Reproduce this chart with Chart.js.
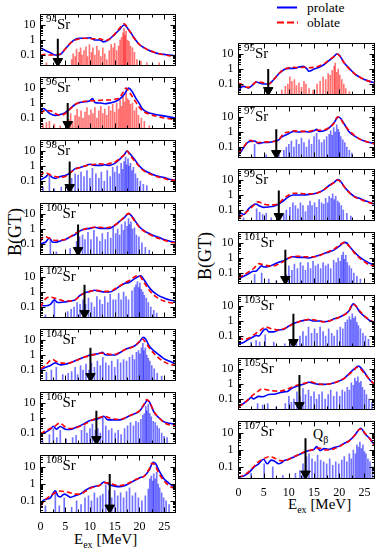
<!DOCTYPE html>
<html><head><meta charset="utf-8">
<script src="https://cdn.jsdelivr.net/npm/chart.js@4.4.0/dist/chart.umd.min.js"></script>
<style>
html,body{margin:0;padding:0;background:#fff;}
body{width:382px;height:552px;position:relative;overflow:hidden;font-family:"Liberation Serif","Times New Roman",serif;color:#000;}
canvas{position:absolute;}
.plab{position:absolute;font-size:15px;line-height:15px;white-space:nowrap;}
.plab .sup{font-size:11px;position:relative;top:-7px;}
.xt{position:absolute;font-size:15px;line-height:15px;white-space:nowrap;}
.xt .sb{font-size:10px;position:relative;top:4px;}
.yt{position:absolute;font-size:18px;line-height:18px;white-space:nowrap;transform:translate(-50%,-50%) rotate(-90deg);}
.q{position:absolute;font-size:14px;line-height:14px;white-space:nowrap;}
.q .sb{font-size:10px;position:relative;top:4px;}
</style></head><body>
<svg style="position:absolute;left:270px;top:0px" width="112" height="32">
<line x1="7" y1="7.5" x2="27" y2="7.5" stroke="#0000ff" stroke-width="2"/>
<text x="37" y="12" font-family="Liberation Serif" font-size="13.5">prolate</text>
<line x1="7" y1="22.5" x2="28" y2="22.5" stroke="#ff0000" stroke-width="2" stroke-dasharray="7,3"/>
<text x="37" y="27" font-family="Liberation Serif" font-size="13.5">oblate</text>
</svg>
<div class="yt" style="left:15px;top:232px">B(GT)</div>
<div class="yt" style="left:205px;top:256px">B(GT)</div>
<div class="xt" style="left:74px;top:532px">E<span class="sb">ex</span> [MeV]</div>
<div class="xt" style="left:288px;top:497px">E<span class="sb">ex</span> [MeV]</div>
<div class="q" style="left:313px;top:428px">Q<span class="sb">β</span></div>
<script>
// ---------------- data ----------------
const LEFT_ISOTOPES = [94, 96, 98, 100, 102, 104, 106, 108];
const RIGHT_ISOTOPES = [95, 97, 99, 101, 103, 105, 107];
const LEFT_QBETA = [3.5, 5.5, 5.9, 7.6, 8.9, 10.1, 11.3, 14.0];
const RIGHT_QBETA = [5.9, 7.5, 8.0, 9.3, 10.9, 12.1, 13.3];
const LEFT_ARROW_TOP = [1.2, 1.0, 2.0, 2.0, 3.0, 3.0, 3.0, 4.0];
const RIGHT_ARROW_TOP = [1.0, 1.5, 2.0, 3.5, 3.0, 4.0, 5.0];
const ARROW_FOOT = 0.038;
const Y_TICKS = [0.1, 1, 10];
const X_TICKS = [0, 5, 10, 15, 20, 25];
const RED_SPIKE_ISOTOPES = [94, 95, 96];

const PROLATE_94 = [[0,0.3],[1,0.2],[2,0.14],[3,0.1],[4,0.11],[5,0.25],[6,0.6],[7,1.1],[8,1.3],[9,1.3],[10,1.4],[11,1.0],[12,1.0],[12.7,0.75],[13.7,1.0],[15,2.4],[16,5],[16.9,10],[18,4],[19,1.3],[20,0.5],[21,0.3],[22,0.2],[23,0.15],[24,0.12],[25,0.11],[26,0.1],[27.3,0.09]];
const OBLATE_94 = [[0,0.1],[1,0.11],[2,0.1],[3,0.1],[4,0.12],[5,0.25],[6,0.6],[7,1.0],[8,1.2],[9,1.3],[10,1.2],[11,1.2],[12,1.2],[13,0.9],[14,1.2],[15,2.5],[16,6],[16.9,12],[18,4],[19,1.2],[20,0.5],[21,0.3],[22,0.2],[23,0.15],[24,0.12],[25,0.1],[26,0.09],[27.3,0.08]];
const LINES_94 = [[1.2,0.03],[6.3,0.05],[6.6,0.12],[7.0,0.08],[7.3,0.25],[7.8,0.15],[8.1,0.3],[8.4,0.1],[8.8,0.2],[9.2,0.35],[9.5,0.08],[9.9,0.5],[10.3,0.15],[10.6,0.3],[11.0,0.1],[11.4,0.4],[11.8,0.2],[12.2,0.08],[12.6,0.3],[13.0,0.12],[13.4,0.05],[13.9,0.2],[14.3,0.5],[14.7,0.3],[15.0,0.6],[15.4,0.2],[15.8,0.4],[16.1,1.0],[16.4,1.5],[16.7,3],[16.9,6],[17.1,2],[17.3,4],[17.6,1],[17.9,0.8],[18.2,0.4],[18.6,0.3],[19.0,0.15],[19.5,0.05],[20.3,0.04],[21.5,0.03],[24.0,0.03]];

const PROLATE_96 = [[0,0.23],[0.6,0.43],[1,0.36],[2,0.19],[3,0.15],[4,0.17],[5,0.23],[6,0.43],[7,0.8],[8,1.1],[9,1.2],[10,1.4],[10.5,2.0],[11,1.1],[12,1.0],[13,0.9],[14,1.0],[15,1.2],[16,1.8],[17,4],[17.8,10],[18.5,6],[19.2,2.3],[20,0.9],[20.5,0.45],[21.5,0.25],[23,0.18],[24.3,0.15],[27.3,0.1]];
const OBLATE_96 = [[0,0.2],[1,0.32],[2,0.3],[3,0.2],[4,0.15],[5,0.2],[6,0.4],[7,0.8],[8,1.1],[9,1.3],[10,1.4],[11,1.4],[12,1.5],[13,1.6],[14,1.6],[15,1.8],[16,2.3],[16.8,6],[17.3,10],[18,5],[19,1.6],[20,0.5],[21,0.25],[22,0.18],[23,0.14],[24,0.12],[25,0.1],[26,0.09],[27.3,0.08]];
const LINES_96 = [[0.5,0.04],[1.2,0.05],[1.8,0.06],[2.8,0.04],[4.0,0.03],[5.7,0.08],[6.1,0.2],[6.5,0.06],[7.0,0.15],[7.4,0.4],[7.8,0.12],[8.2,0.3],[8.6,0.1],[9.0,0.25],[9.4,0.5],[9.8,0.15],[10.2,0.35],[10.6,0.2],[11.0,0.5],[11.4,0.1],[11.8,0.3],[12.2,0.6],[12.6,0.2],[13.0,0.4],[13.4,0.15],[13.8,0.6],[14.2,0.3],[14.6,0.8],[15.0,0.25],[15.4,1.0],[15.8,0.4],[16.1,1.5],[16.4,0.6],[16.7,3],[17.0,1.2],[17.3,5],[17.6,2],[17.9,1.5],[18.2,0.8],[18.6,1.0],[19.0,0.3],[19.4,0.5],[19.8,0.15],[20.4,0.1],[21.0,0.06],[22.0,0.03]];

const PROLATE_98 = [[0,0.12],[1,0.18],[1.7,0.28],[2.3,0.18],[3,0.15],[4,0.2],[5,0.23],[6,0.35],[7,0.67],[8,0.8],[9,1.0],[10,1.3],[11,1.1],[12,1.1],[13,1.2],[14,1.1],[15,1.5],[16,2.8],[17,6],[17.5,10],[18,7],[19,2.8],[20,1.0],[21,0.5],[22,0.35],[23,0.25],[24,0.2],[25,0.17],[26,0.13],[27.3,0.12]];
const OBLATE_98 = [[0,0.2],[0.6,0.35],[1,0.35],[2,0.25],[3,0.2],[4,0.18],[5,0.2],[6,0.35],[7,0.6],[8,0.8],[9,1.0],[10,1.2],[11,1.3],[12,1.4],[13,1.3],[14,1.5],[15,1.8],[16,3],[17,6],[17.5,10],[18,6],[19,2.2],[20,0.9],[21,0.45],[22,0.3],[23,0.22],[24,0.18],[25,0.15],[26,0.12],[27.3,0.11]];
const LINES_98 = [[0.5,0.04],[1.8,0.25],[2.8,0.03],[4.2,0.04],[5.5,0.05],[6.3,0.15],[7.0,0.3],[7.6,0.25],[8.2,0.4],[8.8,0.2],[9.4,0.5],[10.0,0.15],[10.5,0.7],[11.2,0.3],[11.8,0.15],[12.3,0.4],[12.9,0.1],[13.5,0.5],[14.1,0.2],[14.6,0.8],[15.0,0.4],[15.5,1.0],[15.9,0.3],[16.3,1.5],[16.6,0.6],[16.9,2],[17.2,4],[17.4,1.2],[17.7,3],[17.9,1],[18.2,1.5],[18.5,0.5],[18.8,0.8],[19.2,0.3],[19.6,0.15],[20.2,0.1],[20.8,0.06],[21.5,0.05]];

const PROLATE_100 = [[0,0.11],[1,0.13],[1.8,0.25],[2.5,0.13],[3,0.13],[4,0.16],[5,0.2],[6,0.3],[7,0.43],[8,0.75],[9,1.0],[10,1.1],[11,1.3],[12,1.1],[13,1.1],[14,1.1],[15,1.7],[16,3.2],[17,6],[17.8,10.5],[18.5,7],[19,4],[20,1.4],[21,0.75],[22,0.5],[23,0.35],[24,0.27],[25,0.2],[26,0.16],[27.3,0.13]];
const OBLATE_100 = [[0,0.15],[0.6,0.3],[1,0.3],[2,0.22],[3,0.17],[4,0.18],[5,0.2],[6,0.3],[7,0.5],[8,0.75],[9,1.0],[10,1.2],[11,1.3],[12,1.3],[13,1.2],[14,1.3],[15,1.8],[16,3.2],[17,6.5],[17.8,11],[18.5,6],[19,3.5],[20,1.3],[21,0.7],[22,0.45],[23,0.3],[24,0.23],[25,0.18],[26,0.14],[27.3,0.12]];
const LINES_100 = [[2.0,0.2],[3.2,0.03],[6.0,0.05],[7.3,0.15],[7.9,0.3],[8.5,0.4],[9.0,0.2],[9.6,0.6],[10.2,0.2],[10.8,0.8],[11.4,0.3],[12.0,0.15],[12.5,0.5],[13.1,0.2],[13.6,0.6],[14.2,0.25],[14.7,1.2],[15.2,0.5],[15.6,1.0],[16.0,0.4],[16.4,2],[16.8,0.8],[17.1,3],[17.5,1.5],[17.8,5],[18.0,2],[18.3,3],[18.6,1],[19.0,1.2],[19.4,0.4],[19.9,0.3],[20.5,0.12],[21.2,0.06],[22.0,0.04]];

const PROLATE_102 = [[0,0.13],[1,0.12],[2,0.15],[2.8,0.3],[3.5,0.2],[4,0.2],[5,0.22],[6,0.25],[7,0.3],[8,0.6],[9,0.9],[10,1.1],[11,1.3],[12,1.1],[13,1.0],[14,1.0],[15,1.4],[16,2.4],[17,3.7],[18,4.5],[19,7.5],[20.3,12],[21,6],[22,2],[23,0.9],[24,0.55],[25,0.4],[26,0.3],[27.3,0.25]];
const OBLATE_102 = [[0,0.1],[0.5,0.2],[1,0.35],[2,0.45],[3,0.38],[4,0.3],[5,0.25],[6,0.25],[7,0.3],[8,0.55],[9,0.9],[10,1.1],[11,1.3],[12,1.2],[13,1.1],[14,1.1],[15,1.6],[16,2.5],[17,4],[18,6],[19,10],[19.8,13],[21,4],[22,1.3],[23,0.6],[24,0.35],[25,0.25],[26,0.2],[27.3,0.17]];
const LINES_102 = [[1.0,0.03],[2.8,0.3],[5.5,0.05],[6.2,0.07],[6.8,0.1],[7.4,0.2],[8.0,0.15],[8.6,0.3],[9.1,0.15],[9.7,0.4],[10.3,0.2],[10.9,0.1],[11.4,0.5],[12.0,0.3],[12.5,0.15],[13.0,0.5],[13.6,0.2],[14.1,0.7],[14.7,0.3],[15.2,0.3],[15.8,0.8],[16.3,0.3],[16.8,1],[17.3,0.5],[17.8,0.3],[18.5,1.2],[19.0,2],[19.3,3],[19.6,5],[19.9,2],[20.1,4],[20.4,1.5],[20.7,1],[21.0,0.6],[21.4,0.4],[21.8,0.2],[22.3,0.1],[22.9,0.06],[23.5,0.04]];

const PROLATE_104 = [[0,0.1],[1,0.15],[2,0.2],[3,0.3],[4,0.22],[5,0.24],[6,0.3],[7,0.42],[8,0.56],[9,0.75],[10,1.0],[11,1.1],[12,1.3],[12.5,1.5],[13,1.1],[14,1.0],[15,1.0],[16,1.4],[17,2.2],[18,3],[19,4],[20,7.5],[20.8,15],[21.3,11],[22,4],[23,1.8],[24,1.0],[25,0.55],[26,0.4],[27.3,0.25]];
const OBLATE_104 = [[0,0.12],[1,0.2],[2,0.45],[2.5,0.5],[3,0.4],[4,0.3],[5,0.28],[6,0.3],[7,0.4],[8,0.55],[9,0.75],[10,0.9],[11,1.1],[12,1.3],[13,1.3],[14,1.1],[15,1.1],[16,1.5],[17,2.2],[18,2.8],[19,4],[20,8],[20.5,12],[21,9],[22,3],[23,1.2],[24,0.6],[25,0.35],[26,0.25],[27.3,0.2]];
const LINES_104 = [[1.2,0.07],[2.2,0.1],[3.2,0.15],[4.5,0.05],[5.6,0.06],[6.3,0.08],[7.0,0.15],[7.5,0.05],[8.1,0.2],[8.6,0.1],[9.2,0.25],[9.8,0.1],[10.3,0.3],[10.9,0.15],[11.5,0.4],[12.1,0.2],[12.6,0.7],[13.2,0.3],[13.8,0.2],[14.4,0.4],[15.0,0.15],[15.6,0.5],[16.2,0.3],[16.8,0.5],[17.4,0.4],[18.0,0.7],[18.6,1],[19.0,0.5],[19.4,1.5],[19.8,2],[20.1,1.2],[20.4,3],[20.7,6],[20.9,2],[21.2,3],[21.5,1],[21.8,0.6],[22.1,0.4],[22.5,0.2],[23.0,0.12],[23.6,0.06],[24.5,0.04]];

const PROLATE_106 = [[0,0.085],[1,0.11],[2,0.18],[2.6,0.28],[3.2,0.18],[4,0.27],[5,0.18],[6,0.17],[7,0.22],[8,0.3],[9,0.45],[10,0.67],[11,0.8],[12,1.0],[12.8,1.3],[13.5,0.8],[14,0.75],[15,0.75],[16,0.75],[17,0.95],[18,1.4],[19,1.9],[20,2.8],[21,8],[21.6,15],[22,12],[23,2.3],[24,1.0],[25,0.55],[26,0.45],[27.3,0.38]];
const OBLATE_106 = [[0,0.09],[1,0.14],[2,0.2],[3,0.3],[3.8,0.45],[4.5,0.35],[5,0.25],[6,0.2],[7,0.22],[8,0.28],[9,0.4],[10,0.6],[11,0.9],[12,1.1],[13,1.3],[14,1.0],[15,0.85],[16,0.8],[17,1.0],[18,1.4],[19,2],[20,3],[21,9],[21.5,17],[22,12],[23,2.5],[24,1.0],[25,0.5],[26,0.35],[27.3,0.3]];
const LINES_106 = [[0.4,0.04],[1.8,0.08],[2.6,0.2],[3.3,0.05],[4.0,0.15],[5.2,0.04],[6.5,0.05],[7.2,0.07],[8.3,0.15],[8.9,0.3],[9.4,0.1],[10.0,0.2],[10.5,0.4],[11.1,0.15],[11.6,0.2],[12.1,0.1],[12.6,1.2],[13.2,0.3],[13.8,0.15],[14.4,0.2],[15.1,0.1],[15.7,0.15],[16.3,0.08],[17.0,0.2],[17.6,0.3],[18.2,0.5],[18.8,0.3],[19.3,0.6],[19.8,0.5],[20.3,0.8],[20.7,1.5],[21.0,2],[21.3,6],[21.5,3],[21.8,8],[22.1,2],[22.4,1.2],[22.8,0.6],[23.2,0.5],[23.6,0.3],[24.0,0.2],[24.5,0.1],[25.0,0.06],[25.6,0.05]];

const PROLATE_108 = [[0,0.05],[0.5,0.1],[1,0.12],[2,0.15],[3,0.4],[3.5,0.2],[4,0.17],[4.8,0.25],[5.5,0.2],[6,0.16],[7,0.2],[8,0.25],[9,0.4],[10,0.6],[11,0.72],[12,0.85],[12.8,1.3],[13.5,1.1],[14,0.9],[15,0.75],[16,0.7],[17,0.8],[18,1.1],[19,1.6],[20,2.3],[21,3],[22,7],[22.8,20],[23.3,16],[24,6],[25,2],[26,1.1],[27.3,0.6]];
const OBLATE_108 = [[0,0.05],[0.5,0.08],[1,0.12],[2,0.2],[3,0.3],[3.5,0.35],[4,0.38],[5,0.35],[6,0.3],[7,0.25],[8,0.25],[9,0.35],[10,0.55],[11,0.7],[12,0.85],[13,1.2],[14,1.1],[15,0.9],[16,0.8],[17,0.9],[18,1.2],[19,1.7],[20,2.2],[21,3],[22,8],[22.5,17],[23,15],[24,4],[25,1.5],[26,0.8],[27.3,0.5]];
const LINES_108 = [[1.0,0.05],[3.0,0.3],[3.8,0.05],[4.8,0.15],[6.3,0.04],[7.3,0.1],[8.2,0.06],[9.0,0.15],[9.7,0.2],[10.3,0.1],[10.9,0.3],[11.5,0.15],[12.1,0.2],[12.6,0.25],[13.2,0.9],[13.8,0.4],[14.4,0.15],[15.0,0.4],[15.6,0.2],[16.2,0.3],[16.8,0.15],[17.4,0.35],[18.0,0.6],[18.6,0.2],[19.2,0.3],[19.8,0.15],[20.5,0.1],[21.2,0.2],[21.8,0.5],[22.1,2],[22.4,3],[22.7,1.5],[22.9,4],[23.2,2],[23.5,5],[23.8,1],[24.1,0.6],[24.5,0.3],[24.9,0.15],[25.4,0.1],[26.0,0.06]];

const PROLATE_95 = [[0,0.033],[0.5,0.06],[1,0.07],[2,0.055],[3,0.1],[3.5,0.14],[4,0.12],[5,0.1],[6,0.1],[7,0.2],[8,0.48],[9,0.9],[10,1.1],[11,1.1],[12,1.35],[12.8,1.5],[13.5,1.1],[14,0.7],[15,1.0],[16,1.3],[17,2],[18,3.7],[19,7],[19.5,10],[20,8.5],[21,2.5],[22,1.1],[23,0.5],[24,0.3],[25,0.2],[26,0.15],[27,0.12]];
const OBLATE_95 = [[0,0.11],[0.5,0.1],[1,0.07],[2,0.06],[3,0.1],[3.7,0.15],[4,0.14],[5,0.12],[6,0.1],[7,0.2],[8,0.5],[9,0.9],[10,1.2],[11,1.3],[12,1.2],[13,1.3],[14,1.2],[15,1.3],[16,1.6],[17,2.3],[18,4],[19,7],[19.5,10],[20,8],[21,2.5],[22,1.0],[23,0.5],[24,0.3],[25,0.2],[26,0.15],[27,0.12]];
const LINES_95 = [[8.6,0.04],[9.3,0.07],[9.8,0.1],[10.2,0.3],[10.6,0.15],[11.1,0.2],[11.5,0.08],[12.0,0.12],[12.5,0.06],[13.0,0.15],[13.4,0.1],[14.0,0.05],[14.8,0.04],[15.6,0.1],[16.2,0.15],[16.8,0.3],[17.3,0.2],[17.8,0.5],[18.2,0.4],[18.6,0.8],[19.0,1.5],[19.2,2.5],[19.5,0.6],[19.8,1],[20.1,0.4],[20.5,0.2],[20.9,0.1],[21.3,0.05],[22.0,0.03]];

const PROLATE_97 = [[0,0.032],[0.5,0.05],[1,0.09],[2,0.22],[3.2,0.25],[4,0.17],[5,0.2],[6,0.2],[7,0.24],[8,0.3],[8.5,0.45],[9,0.55],[10,0.8],[11,1.1],[12,1.0],[13,1.1],[14,1.0],[15,1.2],[15.5,1.5],[16,1.1],[17,1.2],[18,1.9],[19,4.3],[19.8,10],[20.3,8],[21,3.4],[22,1.0],[23,0.55],[24,0.35],[25,0.25],[26,0.2],[27,0.17]];
const OBLATE_97 = [[0,0.04],[1,0.1],[2,0.25],[2.5,0.28],[3,0.22],[4,0.2],[5,0.22],[6,0.22],[7,0.23],[8,0.3],[8.5,0.5],[9,0.8],[10,1.0],[11,1.2],[12,1.1],[13,1.1],[14,1.1],[15,1.3],[16,1.3],[17,1.4],[18,2],[19,4],[19.6,10],[20.2,8],[21,3],[22,1.2],[23,0.6],[24,0.35],[25,0.25],[26,0.2],[27,0.16]];
const LINES_97 = [[3.2,0.15],[5.5,0.03],[8.0,0.03],[9.0,0.06],[9.5,0.1],[10.0,0.15],[10.5,0.25],[11.0,0.1],[11.5,0.3],[12.0,0.15],[12.5,0.4],[13.0,0.2],[13.5,0.1],[14.0,0.3],[14.5,0.15],[15.0,0.5],[15.5,0.8],[16.0,0.3],[16.5,0.2],[17.0,0.3],[17.5,0.5],[18.0,0.7],[18.3,1.2],[18.6,0.6],[18.9,2],[19.2,1],[19.5,3],[19.8,1.5],[20.0,1],[20.3,0.5],[20.7,0.3],[21.1,0.2],[21.5,0.1],[22.0,0.06],[22.5,0.04]];

const PROLATE_99 = [[0,0.048],[0.5,0.06],[1,0.05],[1.5,0.07],[2,0.12],[3.5,0.25],[4,0.2],[5,0.15],[6,0.16],[7,0.18],[8,0.25],[9,0.43],[10,0.8],[11,1.0],[12,1.0],[13,1.0],[14,1.1],[15,1.2],[16,1.5],[17,2.3],[18,4.3],[19,7],[19.7,10.5],[20.3,8],[21,3.5],[22,1.5],[23,0.8],[24,0.6],[25,0.43],[26,0.33],[27,0.25]];
const OBLATE_99 = [[0,0.03],[1,0.05],[2,0.1],[3,0.2],[3.8,0.35],[4.5,0.3],[5,0.25],[6,0.22],[7,0.22],[8,0.28],[9,0.6],[10,1.0],[11,1.3],[12,1.3],[13,1.2],[14,1.2],[15,1.2],[16,1.5],[17,2.3],[18,4],[19,7],[19.5,10],[20,9],[21,3.5],[22,1.4],[23,0.75],[24,0.55],[25,0.4],[26,0.3],[27,0.25]];
const LINES_99 = [[1.0,0.03],[3.6,0.12],[4.2,0.07],[4.8,0.05],[5.5,0.06],[6.5,0.03],[9.0,0.05],[9.5,0.1],[10.2,0.15],[10.8,0.3],[11.3,0.2],[11.8,0.12],[12.3,0.3],[12.8,0.2],[13.3,0.08],[13.8,0.2],[14.2,0.4],[14.6,0.2],[15.1,0.3],[15.5,0.15],[16.0,0.5],[16.5,0.3],[16.9,0.25],[17.3,0.6],[17.7,0.3],[18.0,0.8],[18.4,0.6],[18.7,1.2],[19.0,0.5],[19.3,0.8],[19.7,0.4],[20.0,0.3],[20.4,0.2],[20.8,0.1],[21.5,0.06],[22.3,0.04]];

const PROLATE_101 = [[0,0.04],[1,0.06],[2,0.09],[3,0.13],[3.4,0.13],[4,0.2],[4.6,0.3],[5,0.25],[6,0.27],[7,0.37],[8,0.52],[9,0.65],[10,1.0],[11,1.2],[12,1.1],[13,1.1],[14,1.0],[15,1.2],[16,1.5],[17,2.0],[18,2.5],[19,3.5],[20,6],[21,11],[21.5,10],[22,6],[23,2.5],[24,1.2],[25,0.7],[26,0.45],[27,0.37]];
const OBLATE_101 = [[0,0.05],[1,0.07],[2,0.12],[3,0.2],[3.5,0.3],[4,0.42],[5,0.35],[6,0.3],[7,0.3],[8,0.4],[9,0.6],[10,1.0],[11,1.3],[12,1.3],[13,1.2],[14,1.2],[15,1.2],[16,1.4],[17,2.0],[18,2.8],[19,4],[20,7],[21,11],[22,6],[23,2.2],[24,1.0],[25,0.55],[26,0.35],[27,0.3]];
const LINES_101 = [[3.2,0.08],[4.6,0.1],[6.0,0.04],[7.5,0.03],[9.5,0.08],[10.0,0.3],[10.6,0.15],[11.1,0.4],[11.7,0.2],[12.3,0.5],[12.8,0.3],[13.3,0.15],[13.8,0.5],[14.3,0.2],[14.8,0.6],[15.3,0.3],[15.8,0.4],[16.3,0.2],[16.8,0.5],[17.3,0.3],[17.8,0.4],[18.3,0.2],[18.9,0.7],[19.4,0.5],[19.8,1],[20.2,0.6],[20.5,1.5],[20.8,2.5],[21.0,0.8],[21.3,1.5],[21.6,0.5],[22.0,0.3],[22.4,0.2],[22.9,0.1],[23.5,0.06],[24.2,0.04]];

const PROLATE_103 = [[0,0.03],[1,0.037],[2,0.06],[3,0.09],[3.5,0.11],[4,0.1],[5,0.25],[5.5,0.29],[6,0.19],[7,0.19],[8,0.25],[9,0.28],[10,0.46],[11,0.7],[12,0.9],[13,1.1],[14,1.2],[15,1.0],[16,1.0],[17,0.9],[18,1.0],[19,1.4],[20,1.8],[21,2.6],[22,5],[22.8,14],[23.3,10],[24,4.3],[25,2],[26,1.1],[27,0.75]];
const OBLATE_103 = [[0,0.08],[1,0.06],[2,0.07],[3,0.12],[4,0.2],[5,0.35],[5.5,0.4],[6,0.35],[7,0.28],[8,0.25],[9,0.3],[10,0.45],[11,0.65],[12,0.9],[13,1.1],[14,1.3],[15,1.2],[16,1.0],[17,0.9],[18,1.0],[19,1.3],[20,1.8],[21,2.6],[22,5],[22.5,12],[23,12],[24,5],[25,2.2],[26,1.2],[27,0.8]];
const LINES_103 = [[2.5,0.04],[3.5,0.05],[4.2,0.04],[5.3,0.12],[7.0,0.04],[9.2,0.03],[10.3,0.04],[11.5,0.05],[12.2,0.1],[12.8,0.2],[13.4,0.1],[13.9,0.4],[14.5,0.15],[15.1,0.3],[15.6,0.15],[16.2,0.4],[16.8,0.2],[17.3,0.1],[17.9,0.3],[18.5,0.15],[19.0,0.1],[19.6,0.25],[20.2,0.4],[20.7,0.3],[21.2,0.8],[21.6,1.2],[22.0,2],[22.3,1.2],[22.6,3],[22.9,1.5],[23.2,2],[23.5,0.8],[23.8,0.5],[24.2,0.3],[24.7,0.15],[25.2,0.1],[25.8,0.06]];

const PROLATE_105 = [[0,0.032],[1,0.05],[2,0.09],[2.5,0.13],[3,0.1],[4,0.15],[4.8,0.14],[6,0.2],[7,0.21],[8,0.25],[9,0.3],[9.7,0.32],[10.5,0.5],[11,0.6],[12,0.8],[13,1.0],[14,1.3],[15,1.1],[16,0.95],[17,0.95],[18,1.0],[19,1.2],[20,1.6],[21,2.4],[22,5],[23,10],[23.8,16],[24.5,10],[25,6],[26,2],[27,0.95]];
const OBLATE_105 = [[0,0.03],[1,0.05],[2,0.1],[3,0.2],[4,0.35],[4.5,0.45],[5,0.45],[6,0.38],[7,0.35],[8,0.33],[9,0.38],[10,0.5],[11,0.7],[12,0.9],[13,1.1],[14,1.3],[14.5,1.4],[15,1.2],[16,1.0],[17,0.95],[18,1.0],[19,1.2],[20,1.6],[21,2.4],[22,4.5],[23,9],[23.5,13],[24,12],[25,5],[26,2],[27,1.0]];
const LINES_105 = [[3.8,0.05],[4.8,0.04],[5.8,0.05],[7.5,0.03],[9.3,0.05],[10.0,0.15],[10.5,0.06],[11.0,0.1],[11.6,0.3],[12.2,0.15],[12.8,0.5],[13.3,0.2],[13.9,0.4],[14.4,0.15],[15.0,0.3],[15.5,0.1],[16.0,0.2],[16.6,0.3],[17.2,0.1],[17.8,0.2],[18.3,0.4],[18.9,0.15],[19.5,0.3],[20.1,0.15],[20.6,0.4],[21.1,0.3],[21.6,0.6],[22.0,0.4],[22.4,1.2],[22.8,0.8],[23.1,2.5],[23.4,1.5],[23.7,3],[24.0,1.2],[24.3,1.5],[24.6,0.6],[25.0,0.4],[25.4,0.2],[25.9,0.1],[26.5,0.06]];

const PROLATE_107 = [[0,0.023],[1,0.028],[2,0.043],[3,0.09],[4,0.15],[5,0.28],[5.7,0.15],[6.5,0.25],[7,0.23],[8,0.15],[8.5,0.17],[9,0.23],[10,0.28],[11,0.38],[12,0.53],[13,0.72],[14,0.92],[15,1.1],[15.5,1.6],[16.2,0.92],[17,1.2],[18,1.1],[19,1.4],[20,1.7],[21,2.5],[22,3.6],[23,7],[24.3,20],[25,10],[26,5],[27,1.9]];
const OBLATE_107 = [[0,0.025],[1,0.03],[2,0.05],[3,0.1],[4,0.2],[5,0.3],[6,0.4],[7,0.35],[8,0.25],[9,0.22],[10,0.28],[11,0.4],[12,0.55],[13,0.75],[14,0.9],[15,1.1],[16,1.3],[16.5,1.2],[17,1.0],[18,1.0],[19,1.2],[20,1.6],[21,2.4],[22,3.5],[23,7],[24,17],[24.5,18],[25,11],[26,5],[27,1.8]];
const LINES_107 = [[2.5,0.04],[5.1,0.15],[6.8,0.1],[8.8,0.03],[11.3,0.04],[12.2,0.06],[12.8,0.15],[13.5,0.4],[14.0,0.6],[14.6,0.3],[15.2,0.2],[15.7,0.5],[16.3,0.25],[16.9,0.2],[17.5,0.15],[18.1,0.3],[18.7,0.12],[19.3,0.2],[19.9,0.15],[20.5,0.25],[21.0,0.4],[21.5,0.2],[22.0,0.6],[22.4,0.3],[22.8,1],[23.2,0.6],[23.5,2],[23.8,1.5],[24.1,3],[24.4,1.2],[24.7,2],[25.0,0.8],[25.3,0.6],[25.7,0.3],[26.1,0.2],[26.6,0.1]];

const PROLATE = {94:PROLATE_94,96:PROLATE_96,98:PROLATE_98,100:PROLATE_100,102:PROLATE_102,104:PROLATE_104,106:PROLATE_106,108:PROLATE_108,95:PROLATE_95,97:PROLATE_97,99:PROLATE_99,101:PROLATE_101,103:PROLATE_103,105:PROLATE_105,107:PROLATE_107};
const OBLATE = {94:OBLATE_94,96:OBLATE_96,98:OBLATE_98,100:OBLATE_100,102:OBLATE_102,104:OBLATE_104,106:OBLATE_106,108:OBLATE_108,95:OBLATE_95,97:OBLATE_97,99:OBLATE_99,101:OBLATE_101,103:OBLATE_103,105:OBLATE_105,107:OBLATE_107};
const LINES = {94:LINES_94,96:LINES_96,98:LINES_98,100:LINES_100,102:LINES_102,104:LINES_104,106:LINES_106,108:LINES_108,95:LINES_95,97:LINES_97,99:LINES_99,101:LINES_101,103:LINES_103,105:LINES_105,107:LINES_107};

// ---------------- layout / style ----------------
Chart.defaults.font.family = '"Liberation Serif","Times New Roman",serif';
Chart.defaults.color = '#000';

const PANEL_H = 63;
const COLS = [
  {isotopes: LEFT_ISOTOPES, q: LEFT_QBETA, top: LEFT_ARROW_TOP, canvasLeft: 0, canvasW: 182, y0: 8, xMax: 27.3},
  {isotopes: RIGHT_ISOTOPES, q: RIGHT_QBETA, top: RIGHT_ARROW_TOP, canvasLeft: 198, canvasW: 183, y0: 37, xMax: 27.0}
];
const Y_AXIS_W = 40.5;
const X_AXIS_H = 40;

const frameTicks = {
  id: 'frameTicks',
  afterDatasetsDraw(chart) {
    const {ctx, chartArea: a, scales: {x, y}} = chart;
    ctx.save();
    ctx.strokeStyle = '#000';
    ctx.lineWidth = 1;
    ctx.beginPath();
    for (let e = -2; e <= 1; e++) {
      for (let m = 1; m <= 9; m++) {
        const v = m * Math.pow(10, e);
        if (v <= y.min * 1.0001 || v >= y.max * 0.9999) continue;
        const py = Math.round(y.getPixelForValue(v)) + 0.5;
        const L = m === 1 ? 5 : 2.5;
        ctx.moveTo(a.left, py); ctx.lineTo(a.left + L, py);
        ctx.moveTo(a.right, py); ctx.lineTo(a.right - L, py);
      }
    }
    for (let k = 1; k * 2.5 < x.max; k++) {
      const v = k * 2.5;
      const px = Math.round(x.getPixelForValue(v)) + 0.5;
      const L = (k % 2 === 0) ? 5 : 3;
      ctx.moveTo(px, a.bottom); ctx.lineTo(px, a.bottom - L);
      ctx.moveTo(px, a.top); ctx.lineTo(px, a.top + L);
    }
    ctx.stroke();
    ctx.strokeRect(a.left, a.top, a.right - a.left, a.bottom - a.top);
    ctx.restore();
  }
};

const toXY = arr => arr.map(p => ({x: p[0], y: p[1]}));

function buildPanel(col, idx) {
  const iso = col.isotopes[idx];
  const isBottom = idx === col.isotopes.length - 1;
  const top = col.y0 + PANEL_H * idx;
  const h = PANEL_H + 1 + (isBottom ? X_AXIS_H : 0);
  const cv = document.createElement('canvas');
  cv.width = col.canvasW; cv.height = h;
  cv.style.left = col.canvasLeft + 'px'; cv.style.top = top + 'px';
  cv.style.width = col.canvasW + 'px'; cv.style.height = h + 'px';
  document.body.appendChild(cv);

  const red = RED_SPIKE_ISOTOPES.includes(iso);
  new Chart(cv, {
    type: 'bar',
    data: {
      datasets: [
        {type: 'line', data: toXY([[col.q[idx], col.top[idx]], [col.q[idx], ARROW_FOOT]]),
         borderColor: '#000', borderWidth: 2, pointRadius: [0, 5.5], pointHoverRadius: 0,
         pointStyle: 'triangle', pointRotation: 180, pointBackgroundColor: '#000',
         pointBorderColor: '#000', pointBorderWidth: 1, order: 0},
        {type: 'line', data: toXY(OBLATE[iso]), borderColor: '#ff0000', borderWidth: 1.6,
         borderDash: [5, 3], pointRadius: 0, cubicInterpolationMode: 'monotone', order: 1},
        {type: 'line', data: toXY(PROLATE[iso]), borderColor: '#0000ff', borderWidth: 1.6,
         pointRadius: 0, cubicInterpolationMode: 'monotone', order: 2},
        {type: 'bar', data: toXY(LINES[iso]),
         backgroundColor: red ? 'rgba(255,0,0,0.55)' : 'rgba(0,0,255,0.55)',
         borderWidth: 0, barThickness: 1, order: 3}
      ]
    },
    options: {
      animation: false, responsive: false, maintainAspectRatio: false, devicePixelRatio: 1,
      events: [],
      layout: {padding: {left: 0, right: 0.5, top: 0.5, bottom: 0.5}},
      plugins: {legend: {display: false}, tooltip: {enabled: false}},
      scales: {
        x: {
          type: 'linear', min: 0, max: col.xMax, offset: false, display: isBottom,
          grid: {display: false, drawTicks: false, offset: false}, border: {display: false},
          ticks: {font: {size: 12}, color: '#000', padding: 7, maxRotation: 0, autoSkip: false,
                  callback: v => String(v)},
          afterBuildTicks: s => { s.ticks = X_TICKS.map(v => ({value: v})); },
          afterFit: s => { s.height = isBottom ? X_AXIS_H : 0; s.paddingLeft = 0; s.paddingRight = 0; }
        },
        y: {
          type: 'logarithmic', min: 0.02, max: 50,
          grid: {display: false, drawTicks: false}, border: {display: false},
          ticks: {font: {size: 12}, color: '#000', padding: 5, autoSkip: false,
                  callback: v => String(v)},
          afterBuildTicks: s => { s.ticks = Y_TICKS.map(v => ({value: v})); },
          afterFit: s => { s.width = Y_AXIS_W; s.paddingTop = 0; s.paddingBottom = 0; }
        }
      }
    },
    plugins: [frameTicks]
  });

  const lab = document.createElement('div');
  lab.className = 'plab';
  lab.style.left = (col.canvasLeft + Y_AXIS_W + 5.5) + 'px';
  lab.style.top = (top + 9) + 'px';
  lab.innerHTML = '<span class="sup">' + iso + '</span>Sr';
  document.body.appendChild(lab);
}

COLS.forEach(col => col.isotopes.forEach((iso, i) => buildPanel(col, i)));
</script>
</body></html>
